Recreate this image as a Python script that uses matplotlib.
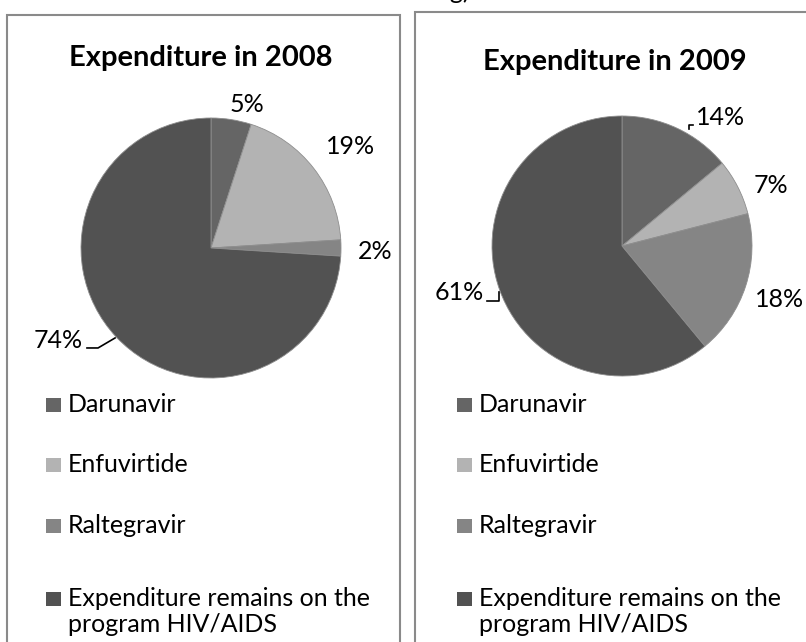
import matplotlib
matplotlib.use('Agg')
import matplotlib.pyplot as plt
from matplotlib.patches import Rectangle

plt.rcParams['font.family'] = ['Lato', 'DejaVu Sans']

W, H = 806, 642

categories = ['Darunavir', 'Enfuvirtide', 'Raltegravir',
              'Expenditure remains on the\nprogram HIV/AIDS']
values_2008 = [5, 19, 2, 74]
values_2009 = [14, 7, 18, 61]
labels_2008 = ['5%', '19%', '2%', '74%']
labels_2009 = ['14%', '7%', '18%', '61%']
titles = ['Expenditure in 2008', 'Expenditure in 2009']
colors = ['#656565', '#b3b3b3', '#858585', '#525252']

fig = plt.figure(figsize=(W / 100, H / 100), dpi=100)


def fx(x):
    return x / W


def fy(y):
    return 1 - y / H


# panel borders
fig.add_artist(Rectangle((fx(7), fy(660)), (400 - 7) / W, (660 - 15) / H,
                         transform=fig.transFigure, fill=False,
                         ec='#8a8a8a', lw=1.5))
fig.add_artist(Rectangle((fx(415), fy(660)), (830 - 415) / W, (660 - 12) / H,
                         transform=fig.transFigure, fill=False,
                         ec='#8a8a8a', lw=1.5))

# text cut off at the top edge (as in the source page)
fig.text(fx(470), fy(-1), 'ng)', ha='right', va='baseline', fontsize=18)

LFS = 18
TFS = 21


def draw_pie(cx, cy, r, values, labels, lab_pos, leaders):
    ax = fig.add_axes([fx(cx - r), fy(cy + r), 2 * r / W, 2 * r / H])
    ax.pie(values, colors=colors, startangle=90, counterclock=False,
           radius=1, wedgeprops=dict(edgecolor='#8e8e8e', linewidth=0.6))
    ax.set_xlim(-1, 1)
    ax.set_ylim(-1, 1)
    ax.set_aspect('equal')
    ax.axis('off')
    for lab, (dx, dy) in zip(labels, lab_pos):
        ax.text(dx, dy, lab, ha='center', va='center', fontsize=LFS,
                color='black', clip_on=False)
    for pts in leaders:
        xs = [p[0] for p in pts]
        ys = [p[1] for p in pts]
        ax.plot(xs, ys, color='black', lw=1.2, clip_on=False)
    return ax


draw_pie(211, 248, 130, values_2008, labels_2008,
         [(0.277, 1.10), (1.07, 0.777), (1.26, -0.03), (-1.177, -0.708)],
         [[(-0.954, -0.769), (-0.869, -0.769), (-0.738, -0.692)]])

draw_pie(622, 246, 130, values_2009, labels_2009,
         [(0.754, 0.985), (1.146, 0.469), (1.208, -0.415), (-1.254, -0.36)],
         [[(0.546, 0.931), (0.515, 0.931), (0.515, 0.900)],
          [(-1.038, -0.423), (-0.946, -0.423), (-0.946, -0.354)]])

fig.text(fx(201), fy(58), titles[0], ha='center', va='center',
         fontweight='bold', fontsize=TFS)
fig.text(fx(615), fy(62), titles[1], ha='center', va='center',
         fontweight='bold', fontsize=TFS)

# legends
baselines = [412, 472, 533, 606]
for sq_x, tx_x in [(46, 68), (457, 479)]:
    for cat, col, base in zip(categories, colors, baselines):
        fig.add_artist(Rectangle((fx(sq_x), fy(base)), 15 / W, 14 / H,
                                 transform=fig.transFigure, fc=col, ec='none'))
        for k, line in enumerate(cat.split('\n')):
            fig.text(fx(tx_x), fy(base + 26 * k), line, ha='left',
                     va='baseline', fontsize=LFS)

fig.savefig('out.png', dpi=100)
